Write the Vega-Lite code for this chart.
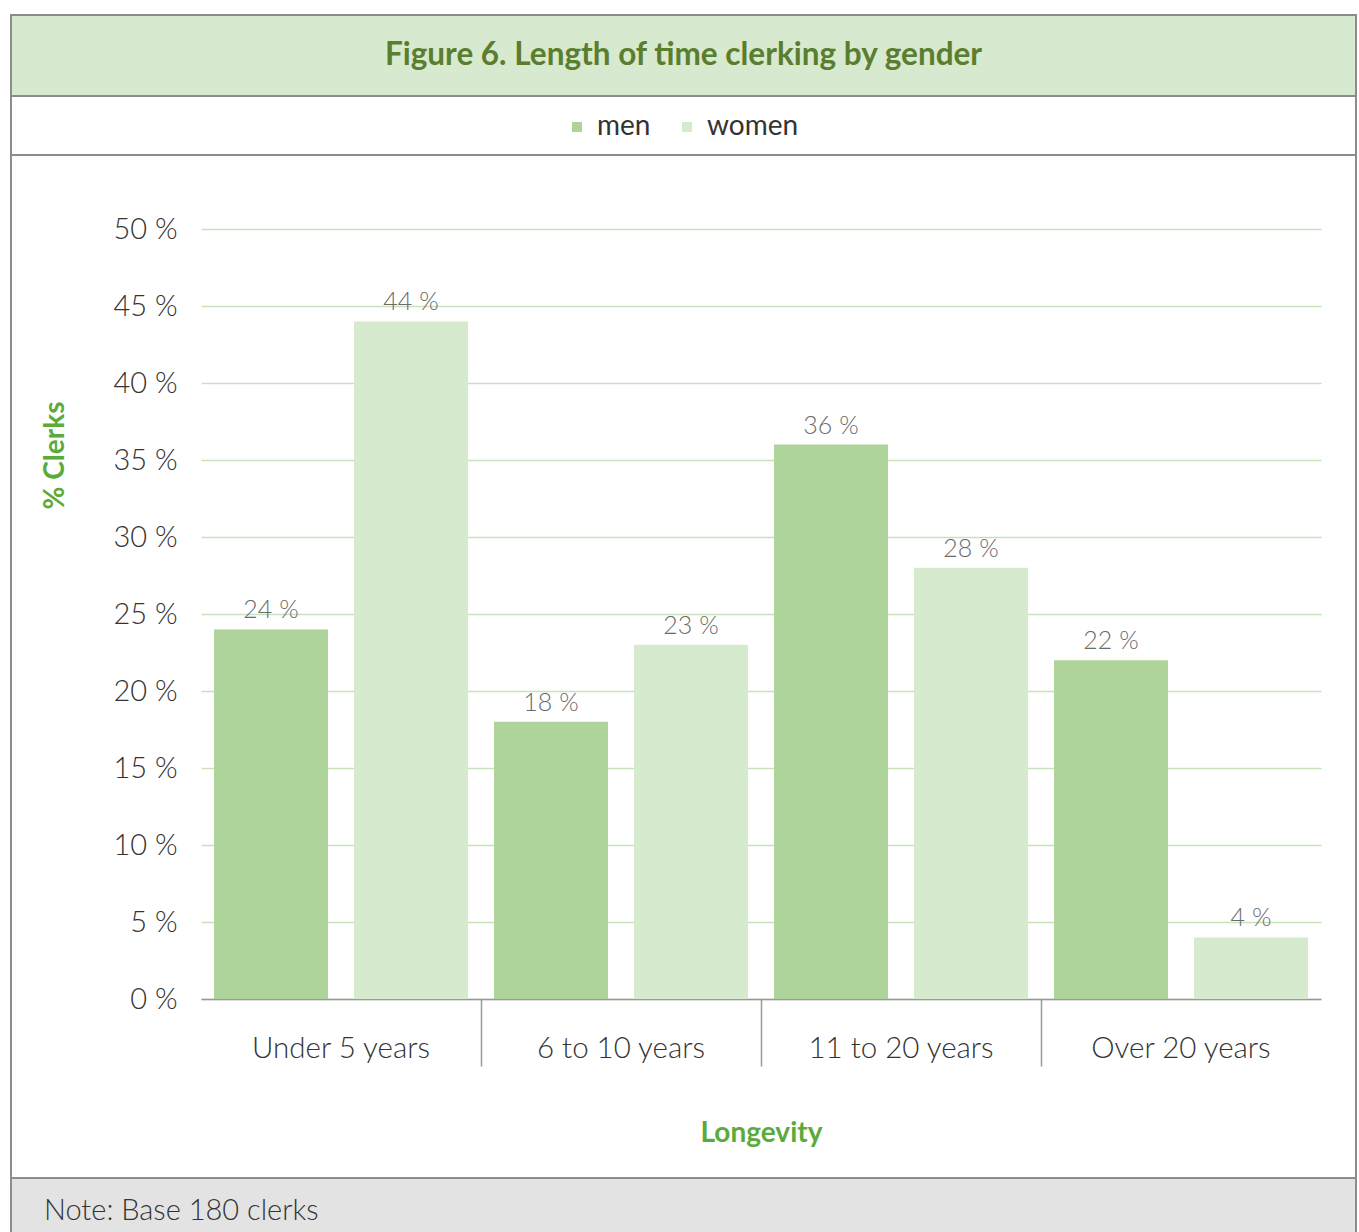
{
  "$schema": "https://vega.github.io/schema/vega-lite/v6.json",
  "padding": {"left": 10, "top": 14, "right": 4, "bottom": 0},
  "background": "white",
  "bounds": "flush",
  "spacing": 0,
  "config": {
    "font": "Lato",
    "view": {"stroke": null},
    "legend": {
      "orient": "none",
      "legendX": 552,
      "legendY": 98,
      "direction": "horizontal",
      "padding": 0,
      "symbolType": "square",
      "symbolSize": 100,
      "symbolStrokeWidth": 0,
      "labelFontSize": 28,
      "labelColor": "#333333",
      "labelOffset": 6,
      "columnPadding": 22
    }
  },
  "vconcat": [
    {
      "width": 1345,
      "height": 81,
      "view": {"fill": "#d7eacf", "stroke": "#8c8c8c", "strokeWidth": 2},
      "data": {"values": [{"heading": "Figure 6. Length of time clerking by gender"}]},
      "mark": {"type": "text", "fontSize": 31.5, "fontWeight": "bold", "color": "#5b7d2e"},
      "encoding": {"text": {"field": "heading"}}
    },
    {
      "width": 1345,
      "height": 59,
      "view": {"fill": "white", "stroke": "#8c8c8c", "strokeWidth": 2},
      "data": {"values": []},
      "mark": "point",
      "encoding": {}
    },
    {
      "width": 1345,
      "height": 1023,
      "view": {"fill": "white", "stroke": "#8c8c8c", "strokeWidth": 2},
      "data": {
        "values": [
          {"period": "Under 5 years", "gender": "men", "pct": 24},
          {"period": "Under 5 years", "gender": "women", "pct": 44},
          {"period": "6 to 10 years", "gender": "men", "pct": 18},
          {"period": "6 to 10 years", "gender": "women", "pct": 23},
          {"period": "11 to 20 years", "gender": "men", "pct": 36},
          {"period": "11 to 20 years", "gender": "women", "pct": 28},
          {"period": "Over 20 years", "gender": "men", "pct": 22},
          {"period": "Over 20 years", "gender": "women", "pct": 4}
        ]
      },
      "transform": [{"calculate": "datum.pct + ' %'", "as": "pctLabel"}],
      "encoding": {
        "x": {
          "field": "period",
          "type": "nominal",
          "sort": ["Under 5 years", "6 to 10 years", "11 to 20 years", "Over 20 years"],
          "scale": {"range": [190, 1310], "paddingInner": 0, "paddingOuter": 0},
          "axis": {
            "offset": -179,
            "title": "Longevity",
            "titleFontSize": 28,
            "titleFontWeight": "bold",
            "titleColor": "#5aab3a",
            "titlePadding": 53,
            "labelAngle": 0,
            "labelLimit": 0,
            "labelFontSize": 29.5,
            "labelFontWeight": 300,
            "labelColor": "#333333",
            "labelPadding": -32,
            "domain": true,
            "domainColor": "#999999",
            "domainWidth": 1.5,
            "ticks": true,
            "bandPosition": 0,
            "tickSize": 67,
            "tickWidth": 1.5,
            "tickColor": {
              "condition": {"test": "datum.value === 'Under 5 years'", "value": "transparent"},
              "value": "#999999"
            }
          }
        },
        "xOffset": {
          "field": "gender",
          "type": "nominal",
          "sort": ["men", "women"],
          "scale": {"paddingInner": 0.186, "paddingOuter": 0.093}
        },
        "y": {
          "field": "pct",
          "type": "quantitative",
          "scale": {"domain": [0, 50], "range": [844, 74]},
          "axis": {
            "offset": -190,
            "title": "% Clerks",
            "titleFontSize": 28,
            "titleFontWeight": "bold",
            "titleColor": "#5aab3a",
            "titleX": -132,
            "titleY": 300,
            "values": [0, 5, 10, 15, 20, 25, 30, 35, 40, 45, 50],
            "labelExpr": "datum.value + ' %'",
            "labelFontSize": 29,
            "labelFontWeight": 300,
            "labelColor": "#333333",
            "labelPadding": 24,
            "domain": false,
            "ticks": false,
            "grid": true,
            "gridColor": "#c8e3bc",
            "gridWidth": 1.5
          }
        }
      },
      "layer": [
        {
          "mark": {"type": "bar"},
          "encoding": {
            "color": {
              "field": "gender",
              "type": "nominal",
              "scale": {"domain": ["men", "women"], "range": ["#aed49b", "#d6eacd"]},
              "legend": {"title": null}
            }
          }
        },
        {
          "mark": {
            "type": "text",
            "baseline": "alphabetic",
            "dy": -11,
            "fontSize": 25,
            "fontWeight": 300,
            "color": "#6b6b6b"
          },
          "encoding": {"text": {"field": "pctLabel"}}
        }
      ]
    },
    {
      "width": 1345,
      "height": 56,
      "view": {"fill": "#e3e3e3", "stroke": "#8c8c8c", "strokeWidth": 2},
      "title": {
        "text": "Note: Base 180 clerks",
        "orient": "top",
        "anchor": "start",
        "frame": "group",
        "offset": -48,
        "dx": 33,
        "fontSize": 29,
        "fontWeight": 300,
        "color": "#333333"
      },
      "data": {"values": []},
      "mark": "point",
      "encoding": {}
    }
  ]
}
